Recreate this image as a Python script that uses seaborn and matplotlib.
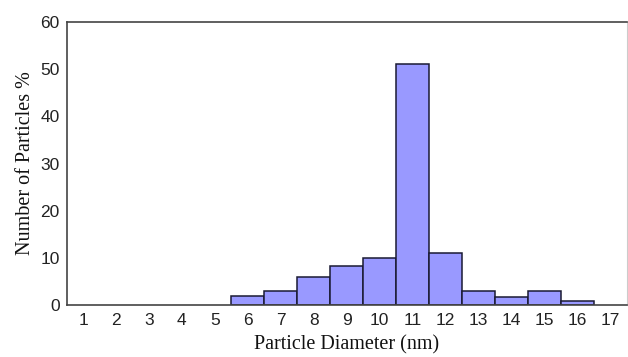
import pandas as pd
import seaborn as sns
import matplotlib.pyplot as plt

# Particle size distribution
diameters = list(range(1, 18))
bar_diameters = [6, 7, 8, 9, 10, 11, 12, 13, 14, 15, 16]
percent = [1.8, 3.0, 6.0, 8.2, 9.9, 51.2, 11.0, 3.0, 1.6, 3.0, 0.8]

df = pd.DataFrame({'Diameter': [str(d) for d in bar_diameters], 'Percent': percent})
order = [str(d) for d in diameters]

sns.set_style('white')

fig = plt.figure(figsize=(6.28, 3.57), dpi=100)
ax = fig.add_axes([0.106, 0.146, 0.892, 0.792])

sns.barplot(data=df, x='Diameter', y='Percent', order=order, ax=ax,
            color='#9999FF', saturation=1, width=1.0,
            edgecolor='#1a1a33', linewidth=1.1)

ax.set_xlim(-0.5, len(order) - 0.5)
ax.set_ylim(0, 60)
ax.set_yticks([0, 10, 20, 30, 40, 50, 60])

# ticks between categories on the x axis, labels centred on categories
ax.set_xticks([i - 0.5 for i in range(len(order))], minor=True)
ax.tick_params(axis='x', which='major', length=0, pad=6)
ax.tick_params(axis='x', which='minor', length=3, width=1, direction='out', color='#333333')
ax.tick_params(axis='y', length=3, width=1, direction='out', color='#333333', pad=2)

for lab in ax.get_xticklabels() + ax.get_yticklabels():
    lab.set_fontfamily('Liberation Sans')
    lab.set_fontsize(12.5)
    lab.set_color('#222222')

for side in ['left', 'bottom', 'top']:
    ax.spines[side].set_color('#444444')
    ax.spines[side].set_linewidth(1.2)
ax.spines['right'].set_color('#cccccc')
ax.spines['right'].set_linewidth(0.8)

ax.set_xlabel('Particle Diameter (nm)', fontfamily='Liberation Serif', fontsize=14.5,
              color='#111111', labelpad=5)
ax.set_ylabel('Number of Particles %', fontfamily='Liberation Serif', fontsize=14.5,
              color='#111111', labelpad=4)

fig.savefig('out.png', dpi=100)
